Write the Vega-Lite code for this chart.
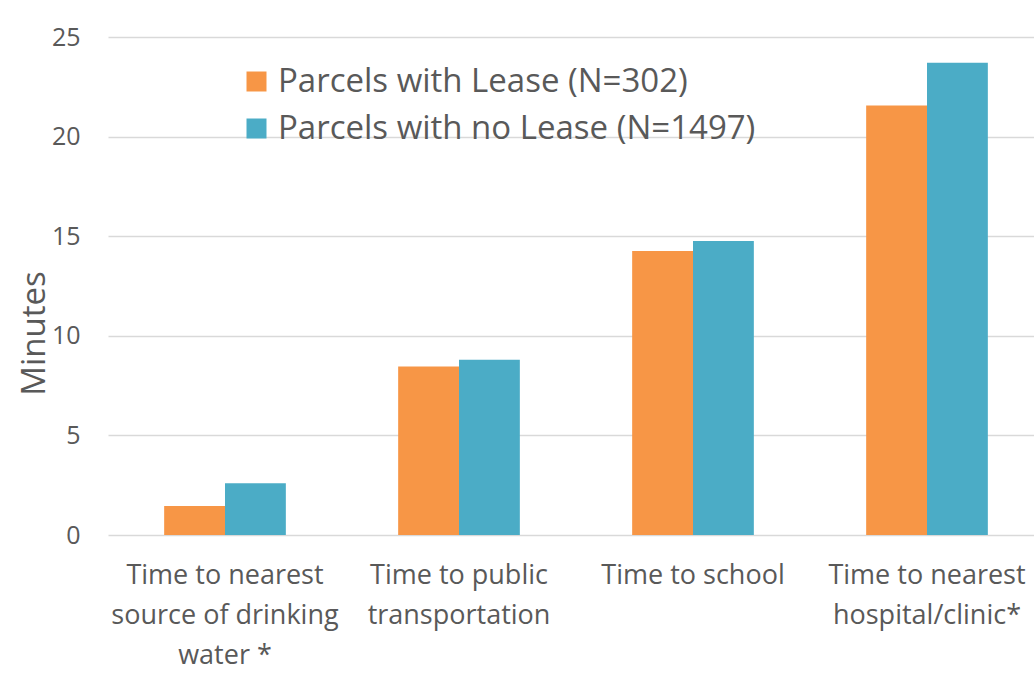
{
  "$schema": "https://vega.github.io/schema/vega-lite/v6.json",
  "autosize": {"type": "none"},
  "padding": {"left": 108, "top": 37, "right": 0, "bottom": 165},
  "width": 926,
  "height": 498,
  "background": "white",
  "config": {
    "font": "Open Sans",
    "view": {"stroke": null},
    "axis": {"labelColor": "#595959", "titleColor": "#595959", "labelFont": "Open Sans", "titleFont": "Open Sans"},
    "legend": {"labelColor": "#595959", "labelFont": "Open Sans"}
  },
  "data": {
    "values": [
      {"measure": "Time to nearest source of drinking water *", "group": "Parcels with Lease (N=302)", "minutes": 1.46},
      {"measure": "Time to nearest source of drinking water *", "group": "Parcels with no Lease (N=1497)", "minutes": 2.60},
      {"measure": "Time to public transportation", "group": "Parcels with Lease (N=302)", "minutes": 8.46},
      {"measure": "Time to public transportation", "group": "Parcels with no Lease (N=1497)", "minutes": 8.80},
      {"measure": "Time to school", "group": "Parcels with Lease (N=302)", "minutes": 14.26},
      {"measure": "Time to school", "group": "Parcels with no Lease (N=1497)", "minutes": 14.76},
      {"measure": "Time to nearest hospital/clinic*", "group": "Parcels with Lease (N=302)", "minutes": 21.56},
      {"measure": "Time to nearest hospital/clinic*", "group": "Parcels with no Lease (N=1497)", "minutes": 23.71}
    ]
  },
  "mark": {"type": "bar"},
  "encoding": {
    "x": {
      "field": "measure",
      "type": "nominal",
      "sort": null,
      "scale": {"range": [0, 936], "paddingInner": 0.48, "paddingOuter": 0.24},
      "axis": {
        "title": null,
        "domain": false,
        "ticks": false,
        "labelAngle": 0,
        "labelFontSize": 27,
        "labelPadding": 27,
        "labelLineHeight": 40,
        "labelBaseline": "top",
        "labelLimit": 400,
        "labelExpr": "datum.value == 'Time to nearest source of drinking water *' ? ['Time to nearest', 'source of drinking', 'water *'] : datum.value == 'Time to public transportation' ? ['Time to public', 'transportation'] : datum.value == 'Time to nearest hospital/clinic*' ? ['Time to nearest', 'hospital/clinic*'] : datum.value"
      }
    },
    "xOffset": {"field": "group", "type": "nominal", "sort": null},
    "y": {
      "field": "minutes",
      "type": "quantitative",
      "scale": {"domain": [0, 25], "nice": false},
      "axis": {
        "title": "Minutes",
        "titleFontSize": 33,
        "titleFontWeight": "normal",
        "titleAngle": -90,
        "titleAlign": "center",
        "titleBaseline": "middle",
        "titleX": -74,
        "titleY": 296,
        "values": [0, 5, 10, 15, 20, 25],
        "domain": false,
        "ticks": false,
        "labelFontSize": 25,
        "labelPadding": 28,
        "gridColor": "#d9d9d9",
        "gridWidth": 1.5
      }
    },
    "color": {
      "field": "group",
      "type": "nominal",
      "sort": null,
      "scale": {"range": ["#F79646", "#4BACC6"]},
      "legend": {
        "title": null,
        "orient": "none",
        "legendX": 132,
        "legendY": 28,
        "symbolType": "square",
        "symbolSize": 400,
        "symbolOpacity": 1,
        "labelFontSize": 33,
        "labelOffset": 5,
        "labelLimit": 600,
        "rowPadding": 13
      }
    }
  }
}
